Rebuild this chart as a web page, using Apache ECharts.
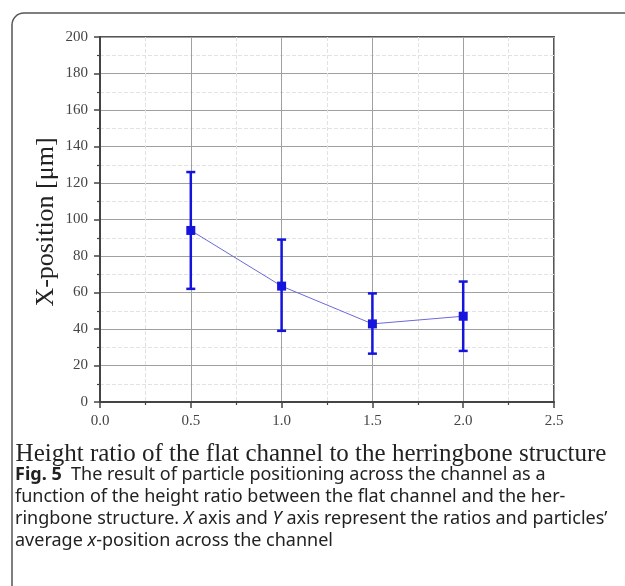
<!DOCTYPE html>
<html>
<head>
<meta charset="utf-8">
<script src="https://cdn.jsdelivr.net/npm/echarts@6/dist/echarts.min.js"></script>
<style>
  html, body { margin:0; padding:0; background:#fff; }
  #chart { width:625px; height:586px; }
</style>
</head>
<body>
<div id="chart"></div>
<script>
// dados
const ratios   = [0.5, 1.0, 1.5, 2.0];
const meanPos  = [94, 63.5, 42.8, 47];
const lowPos   = [62, 39, 26.5, 28];
const highPos  = [126, 89, 59.5, 66];
const xTicks   = [0, 0.5, 1.0, 1.5, 2.0, 2.5];
const yTicks   = [0, 20, 40, 60, 80, 100, 120, 140, 160, 180, 200];

const serif = '"Liberation Serif", "DejaVu Serif", serif';
const sans  = '"Noto Sans", "Open Sans", sans-serif';
const blue  = '#1414dc';
const capSize = 18;

const chart = echarts.init(document.getElementById('chart'), null, { renderer: 'canvas' });

const axisCommon = {
  axisLine: { show: true, onZero: false, lineStyle: { color: '#444', width: 2 } },
  axisTick: { show: true, inside: false, length: 6, lineStyle: { color: '#444', width: 1.5 } },
  minorTick: { show: true, splitNumber: 2, length: 3, lineStyle: { color: '#444', width: 1.2 } },
  splitLine: { show: true, lineStyle: { color: '#a0a0a0', width: 1 } },
  minorSplitLine: { show: true, lineStyle: { color: '#e2e2e2', width: 1, type: 'dashed' } },
  axisLabel: { fontFamily: serif, fontSize: 15, color: '#444', margin: 12 }
};

const errData = ratios.map((r, i) => [r, lowPos[i], highPos[i]]);

// legenda da figura, linha por linha
function capLine(y, text, rich) {
  return { type: 'text', x: 15, y: y,
    style: { text: text, font: capSize + 'px ' + sans, fill: '#222', verticalAlign: 'middle', rich: rich || {} } };
}
const italic = { i: { fontStyle: 'italic', fontFamily: sans, fontSize: capSize, fill: '#222' } };

chart.setOption({
  animation: false,
  grid: { left: 100, top: 37, width: 454, height: 365, show: true, borderColor: '#555', borderWidth: 2, backgroundColor: 'transparent' },
  xAxis: Object.assign({}, axisCommon, {
    type: 'value', min: xTicks[0], max: xTicks[xTicks.length - 1], interval: 0.5,
    axisLabel: Object.assign({}, axisCommon.axisLabel, { formatter: v => v.toFixed(1) })
  }),
  yAxis: Object.assign({}, axisCommon, {
    type: 'value', min: yTicks[0], max: yTicks[yTicks.length - 1], interval: 20
  }),
  graphic: [
    { type: 'rect', shape: { x: 12, y: 13, width: 700, height: 700, r: 12 }, style: { fill: 'none', stroke: '#555', lineWidth: 1.5 }, z: -10 },
    { type: 'text', x: 46, y: 222, rotation: Math.PI / 2,
      style: { text: 'X-position [μm]', font: '26px ' + serif, fill: '#222', align: 'center', verticalAlign: 'middle' } },
    { type: 'text', x: 311, y: 454,
      style: { text: 'Height ratio of the flat channel to the herringbone structure', font: '25px ' + serif, fill: '#222', align: 'center', verticalAlign: 'middle' } },
    capLine(475, '{b|Fig. 5}  The result of particle positioning across the channel as a',
      { b: { fontWeight: 'bold', fontFamily: sans, fontSize: capSize, fill: '#222' } }),
    capLine(497, 'function of the height ratio between the flat channel and the her-'),
    capLine(519, 'ringbone structure. {i|X} axis and {i|Y} axis represent the ratios and particles’', italic),
    capLine(541, 'average {i|x}-position across the channel', italic)
  ],
  series: [
    {
      type: 'custom',
      data: errData,
      z: 3,
      renderItem: function (params, api) {
        const top = api.coord([api.value(0), api.value(2)]);
        const bot = api.coord([api.value(0), api.value(1)]);
        const cap = 4.5;
        const st = { stroke: blue, lineWidth: 2.5 };
        return {
          type: 'group',
          children: [
            { type: 'line', shape: { x1: top[0], y1: top[1], x2: bot[0], y2: bot[1] }, style: st },
            { type: 'line', shape: { x1: top[0] - cap, y1: top[1], x2: top[0] + cap, y2: top[1] }, style: st },
            { type: 'line', shape: { x1: bot[0] - cap, y1: bot[1], x2: bot[0] + cap, y2: bot[1] }, style: st }
          ]
        };
      }
    },
    {
      type: 'line',
      data: ratios.map((r, i) => [r, meanPos[i]]),
      symbol: 'rect',
      symbolSize: 9,
      z: 4,
      itemStyle: { color: blue },
      lineStyle: { color: '#6a6ad6', width: 1 }
    }
  ]
});
</script>
</body>
</html>
